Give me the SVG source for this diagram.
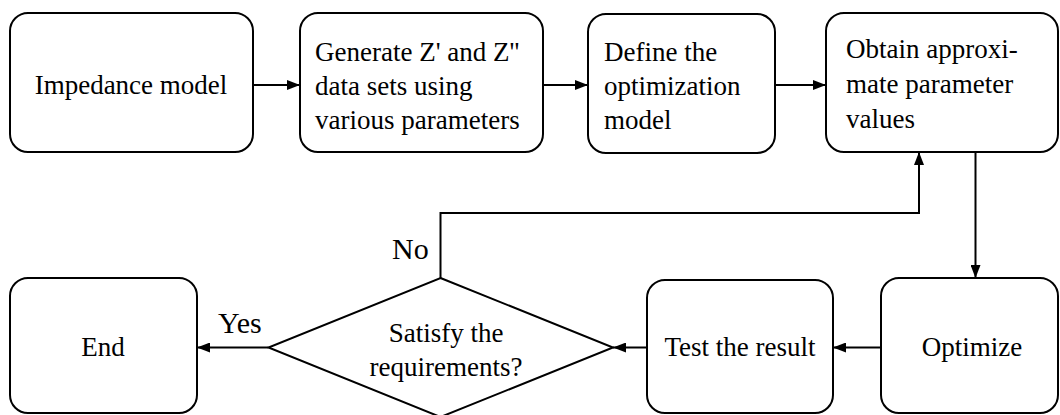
<svg xmlns="http://www.w3.org/2000/svg" width="1060" height="415" viewBox="0 0 1060 415">
<style>
.box{fill:#fff;stroke:#000;stroke-width:2}
.t{font-family:"Liberation Serif","Times New Roman",serif;font-size:27px;fill:#000}
.c{text-anchor:middle}
.lbl{font-family:"Liberation Serif","Times New Roman",serif;font-size:30px;fill:#000}
.ln{fill:none;stroke:#000;stroke-width:2}
</style>
<defs>
<marker id="ah" markerWidth="13" markerHeight="10" refX="13" refY="5" orient="auto" markerUnits="userSpaceOnUse">
<path d="M0,0 L13,5 L0,10 Z" fill="#000"/>
</marker>
</defs>
<rect width="1060" height="415" fill="#fff"/>
<g id="n1">
<rect class="box" x="10" y="13" width="243" height="139" rx="18"/>
<text class="t c" x="131" y="94">Impedance model</text>
</g>
<g id="n2">
<rect class="box" x="300" y="13" width="243" height="139" rx="18"/>
<text class="t" x="315" y="61">Generate Z' and Z''</text>
<text class="t" x="315" y="95">data sets using</text>
<text class="t" x="315" y="129">various parameters</text>
</g>
<g id="n3">
<rect class="box" x="588" y="14" width="187" height="139" rx="18"/>
<text class="t" x="604" y="61">Define the</text>
<text class="t" x="604" y="95">optimization</text>
<text class="t" x="604" y="129">model</text>
</g>
<g id="n4">
<rect class="box" x="826" y="13" width="232" height="139" rx="18"/>
<text class="t" x="846" y="58">Obtain approxi-</text>
<text class="t" x="846" y="93">mate parameter</text>
<text class="t" x="846" y="128">values</text>
</g>
<g id="n5">
<rect class="box" x="881" y="278" width="177" height="135" rx="18"/>
<text class="t c" x="972" y="356">Optimize</text>
</g>
<g id="n6">
<rect class="box" x="647" y="280" width="186" height="133" rx="18"/>
<text class="t c" x="740" y="356">Test the result</text>
</g>
<g id="n7">
<polygon class="box" points="440.5,278 613,347.5 440.5,417 268.5,347.5"/>
<text class="t c" x="446" y="342">Satisfy the</text>
<text class="t c" x="446" y="376">requirements?</text>
</g>
<g id="n8">
<rect class="box" x="10" y="278" width="187" height="135" rx="18"/>
<text class="t c" x="103" y="356">End</text>
</g>
<g id="connectors">
<line class="ln" x1="253" y1="85" x2="300" y2="85" marker-end="url(#ah)"/>
<line class="ln" x1="543" y1="85" x2="588" y2="85" marker-end="url(#ah)"/>
<line class="ln" x1="775" y1="85" x2="826" y2="85" marker-end="url(#ah)"/>
<line class="ln" x1="975.5" y1="152" x2="975.5" y2="278" marker-end="url(#ah)"/>
<line class="ln" x1="881" y1="347.5" x2="833" y2="347.5" marker-end="url(#ah)"/>
<line class="ln" x1="647" y1="347.5" x2="613" y2="347.5" marker-end="url(#ah)"/>
<line class="ln" x1="268.5" y1="347.5" x2="197" y2="347.5" marker-end="url(#ah)"/>
<polyline class="ln" points="440.5,278 440.5,213 919,213 919,152" marker-end="url(#ah)"/>
<text class="lbl" x="392" y="259">No</text>
<text class="lbl" x="218" y="333">Yes</text>
</g>
</svg>
